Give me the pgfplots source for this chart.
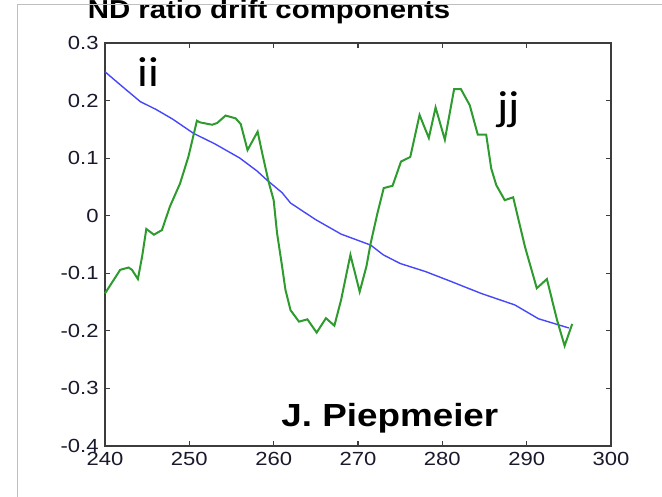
\documentclass[border=0pt]{standalone}
\usepackage{fontspec}
\setmainfont{Liberation Sans}
\newfontfamily\calibri{Carlito}
\usepackage{pgfplots}
\pgfplotsset{compat=1.18}
\definecolor{mblue}{RGB}{70,70,250}
\definecolor{mgreen}{RGB}{45,155,45}
\definecolor{axgray}{RGB}{60,60,60}
\definecolor{ticktext}{RGB}{25,25,45}
\begin{document}
\begin{tikzpicture}
\begin{axis}[
    at={(0pt,0pt)}, anchor=south west,
    width=506pt, height=403pt, scale only axis,
    xmin=240, xmax=300, ymin=-0.4, ymax=0.3,
    xtick={240,250,...,300},
    ytick={-0.4,-0.3,...,0.3},
    tick align=inside,
    major tick length=5pt,
    axis line style={axgray, line width=1.4pt},
    tick style={axgray, line width=1.2pt},
    tick label style={font=\fontsize{19}{19}\selectfont, text=ticktext, xscale=1.16},
    /pgf/number format/assume math mode=true,
    /pgf/number format/fixed,
    xticklabel style={yshift=-3pt},
    yticklabel style={xshift=-2pt},
    clip=false,
]
\addplot[mblue, line width=1.4pt] coordinates {
(240,0.250) (242,0.225) (244.2,0.198) (246,0.185) (248,0.168) (250.5,0.143)
(253,0.125) (256,0.100) (258,0.078) (259.2,0.062) (261,0.040) (262,0.022)
(265,-0.007) (268,-0.032) (271.5,-0.051) (273,-0.068) (275,-0.083) (278,-0.097)
(281,-0.114) (284.6,-0.135) (288.6,-0.155) (291.4,-0.179) (295,-0.195)
};
\addplot[mgreen, line width=2pt] coordinates {
(240,-0.135) (241.8,-0.094) (242.8,-0.090) (243.2,-0.094) (243.9,-0.110)
(244.4,-0.071) (244.9,-0.023) (245.8,-0.033) (246.75,-0.025) (247.7,0.016)
(248.9,0.056) (249.9,0.103) (250.9,0.165) (251.3,0.162) (252.7,0.158)
(253.3,0.161) (254.3,0.174) (255.5,0.169) (256.1,0.159) (256.9,0.114)
(258.1,0.146) (258.65,0.108) (259.4,0.059) (260,0.027) (260.4,-0.030)
(261,-0.088) (261.4,-0.129) (262,-0.164) (263,-0.184) (264,-0.180)
(265.1,-0.203) (266.2,-0.178) (267.2,-0.191) (268,-0.146) (269.1,-0.068)
(270.2,-0.132) (271,-0.088) (271.5,-0.048) (272.3,0.004) (273.05,0.048)
(274.1,0.052) (275.1,0.094) (276.2,0.102) (277.3,0.175) (278.4,0.135)
(279.2,0.188) (280.3,0.132) (281.4,0.220) (282.2,0.220) (283.25,0.192)
(284.2,0.141) (285.2,0.141) (285.8,0.082) (286.4,0.053) (287.4,0.027)
(288.4,0.032) (289.8,-0.054) (291.2,-0.126) (292.4,-0.110) (293.6,-0.181)
(294.5,-0.226) (295.4,-0.188)
};
\node[anchor=base west, inner sep=0pt, font=\calibri\fontsize{42}{42}\selectfont, xscale=1.12] at (axis cs:243.8,0.224) {ii};
\node[anchor=base west, inner sep=0pt, font=\calibri\fontsize{42}{42}\selectfont, xscale=1.12] at (axis cs:286.5,0.166) {jj};
\node[anchor=base west, inner sep=0pt, font=\bfseries\fontsize{32}{32}\selectfont, xscale=1.15] at (axis cs:260.9,-0.367) {J. Piepmeier};
\end{axis}
\node[anchor=base, inner sep=0pt, font=\bfseries\fontsize{26}{26}\selectfont, xscale=1.13] at (164pt,427pt) {ND ratio drift components};
\draw[black!25, line width=0.8pt] (-88pt,-60pt) -- (-88pt,442pt) -- (570pt,442pt);
\pgfresetboundingbox
\useasboundingbox (-105pt,-51pt) rectangle (557pt,446pt);
\end{tikzpicture}
\end{document}
